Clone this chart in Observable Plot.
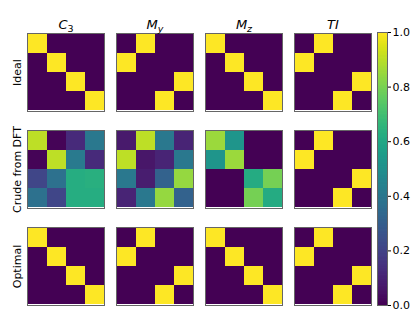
<!DOCTYPE html>
<html>
<head>
<meta charset="utf-8">
<script src="https://cdn.jsdelivr.net/npm/d3@7"></script>
<script src="https://cdn.jsdelivr.net/npm/@observablehq/plot@0.6"></script>
<style>
  body { margin: 0; background: white; }
  #wrap { position: relative; width: 415px; height: 323px; overflow: hidden; }
  #wrap svg { position: absolute; top: 0; }
</style>
</head>
<body>
<div id="wrap"></div>
<script>
// ---- data ----
const matrices = ["C3", "My", "Mz", "TI"];
const rowLabels = ["Ideal", "Crude from DFT", "Optimal"];

const idealC3 = [[1,0,0,0],[0,1,0,0],[0,0,1,0],[0,0,0,1]];
const idealMy = [[0,1,0,0],[1,0,0,0],[0,0,0,1],[0,0,1,0]];
const idealMz = [[1,0,0,0],[0,1,0,0],[0,0,1,0],[0,0,0,1]];
const idealTI = [[0,1,0,0],[1,0,0,0],[0,0,0,1],[0,0,1,0]];

const crudeC3 = [[0.90,0.01,0.12,0.40],[0.01,0.90,0.41,0.12],[0.21,0.37,0.62,0.63],[0.37,0.21,0.62,0.62]];
const crudeMy = [[0.07,0.90,0.40,0.10],[0.90,0.06,0.10,0.40],[0.40,0.08,0.31,0.84],[0.10,0.40,0.84,0.31]];
const crudeMz = [[0.85,0.52,0,0],[0.52,0.85,0,0],[0,0,0.61,0.79],[0,0,0.79,0.61]];
const crudeTI = [[0,1,0,0],[1,0,0,0],[0,0,0,1],[0,0,1,0]];

const optimalC3 = [[1,0,0,0],[0,1,0,0],[0,0,1,0],[0,0,0,1]];
const optimalMy = [[0,1,0,0],[1,0,0,0],[0,0,0,1],[0,0,1,0]];
const optimalMz = [[1,0,0,0],[0,1,0,0],[0,0,1,0],[0,0,0,1]];
const optimalTI = [[0,1,0,0],[1,0,0,0],[0,0,0,1],[0,0,1,0]];

const colorbarTicks = [0, 0.2, 0.4, 0.6, 0.8, 1.0];

// ---- build table ----
const grid = {
  "Ideal": [idealC3, idealMy, idealMz, idealTI],
  "Crude from DFT": [crudeC3, crudeMy, crudeMz, crudeTI],
  "Optimal": [optimalC3, optimalMy, optimalMz, optimalTI]
};
const cells = [];
for (const r of rowLabels) {
  grid[r].forEach((mat, k) => {
    mat.forEach((row, i) => row.forEach((v, j) => cells.push({r, m: matrices[k], i, j, v})));
  });
}
const titles = matrices.map(m => ({m, r: "Ideal"}));
const rowTexts = rowLabels.map(r => ({m: "C3", r}));

const colorOpts = {type: "linear", scheme: "viridis", domain: [0, 1]};
const font = "DejaVu Sans";

const main = Plot.plot({
  width: 415, height: 323,
  marginLeft: 26, marginRight: 42, marginTop: 32, marginBottom: 18,
  style: {fontFamily: font, background: "transparent"},
  fx: {domain: matrices, paddingInner: 0.131, paddingOuter: 0, axis: null},
  fy: {domain: rowLabels, paddingInner: 0.2, paddingOuter: 0, axis: null},
  x: {domain: [0,1,2,3], padding: 0, axis: null},
  y: {domain: [0,1,2,3], padding: 0, axis: null},
  color: colorOpts,
  marks: [
    Plot.cell(cells, {fx: "m", fy: "r", x: "j", y: "i", fill: "v", inset: 0, shapeRendering: "crispEdges"}),
    Plot.frame({stroke: "#666", strokeWidth: 1}),
    Plot.text(titles, {fx: "m", fy: "r", text: "m", frameAnchor: "top", dy: -5, lineAnchor: "bottom", fontSize: 13, fill: "black"}),
    Plot.text(rowTexts, {fx: "m", fy: "r", text: "r", frameAnchor: "left", rotate: -90, dx: -6.5, dy: 0, textAnchor: "middle", lineAnchor: "bottom", fontSize: 11, fill: "black"})
  ]
});

// math-style titles
const mathMap = {
  "C3": ["C", "3", false],
  "My": ["M", "y", true],
  "Mz": ["M", "z", true],
  "TI": ["TI", null, false]
};
main.querySelectorAll("text").forEach(t => {
  const s = t.textContent;
  if (mathMap[s]) {
    const [base, sub, subItalic] = mathMap[s];
    while (t.firstChild) t.removeChild(t.firstChild);
    const ns = "http://www.w3.org/2000/svg";
    const a = document.createElementNS(ns, "tspan");
    a.setAttribute("font-style", "italic");
    a.textContent = base;
    t.appendChild(a);
    if (sub) {
      const b = document.createElementNS(ns, "tspan");
      b.setAttribute("font-size", "9.5");
      b.setAttribute("dy", "3");
      if (subItalic) b.setAttribute("font-style", "italic");
      b.textContent = sub;
      t.appendChild(b);
    }
  }
});

const step = 0.005;
const grad = d3.range(0, 1, step);
const cbar = Plot.plot({
  width: 38, height: 323,
  marginLeft: 0, marginRight: 28, marginTop: 32, marginBottom: 18,
  style: {fontFamily: font, fontSize: "11px", background: "transparent", color: "black"},
  x: {domain: [0, 1], axis: null},
  y: {domain: [0, 1], ticks: colorbarTicks, tickFormat: d => d.toFixed(1), axis: "right", tickSize: 3, tickPadding: 2, label: null},
  color: colorOpts,
  marks: [
    Plot.rect(grad, {x1: 0, x2: 1, y1: d => d, y2: d => Math.min(1, d + step * 1.6), fill: d => d}),
    Plot.frame({stroke: "#666", strokeWidth: 1})
  ]
});
cbar.style.left = "377px";
main.style.left = "0px";

const wrap = document.getElementById("wrap");
wrap.appendChild(main);
wrap.appendChild(cbar);
</script>
</body>
</html>
